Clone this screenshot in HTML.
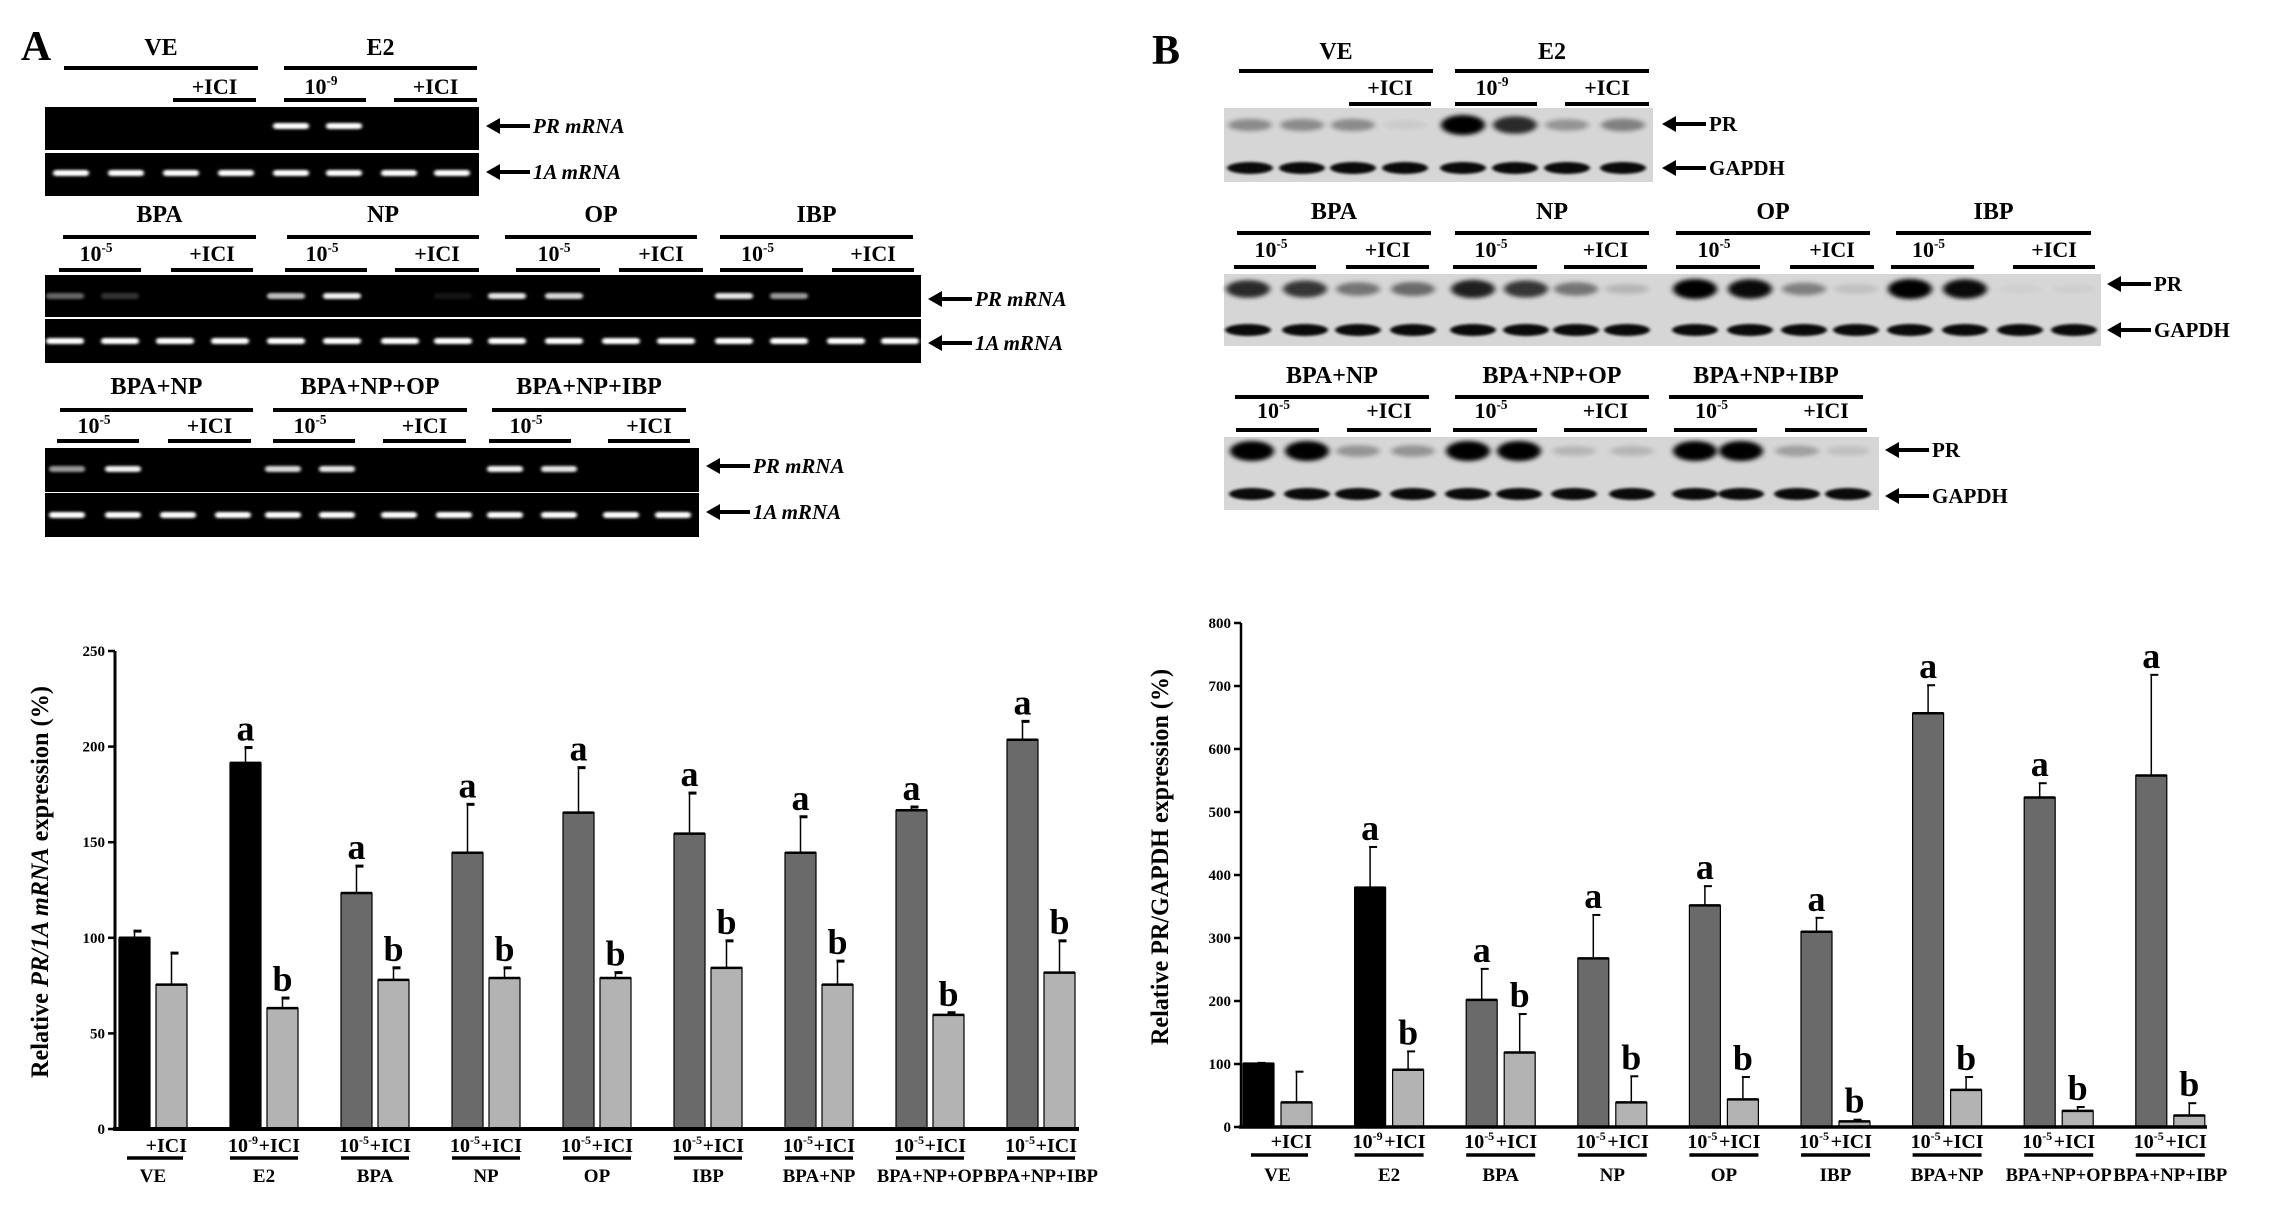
<!DOCTYPE html>
<html><head><meta charset="utf-8">
<style>
html,body{margin:0;padding:0;background:#fff;}
svg{display:block;font-family:"Liberation Serif","DejaVu Serif",serif;font-weight:bold;}
</style></head>
<body>
<svg id="fig" width="2269" height="1212" viewBox="0 0 2269 1212" xmlns="http://www.w3.org/2000/svg">
<defs>
<filter id="glow" x="-30%" y="-200%" width="160%" height="500%"><feGaussianBlur stdDeviation="1.6 1.4"/></filter>
<filter id="blot" x="-30%" y="-200%" width="160%" height="500%"><feGaussianBlur stdDeviation="3 2.2"/></filter>
</defs>
<g id="gels"></g>
<g id="chartA"></g>
<g id="chartB"></g>
</svg>
<script>
// ---------- chart data ----------
const categories = ['VE','E2','BPA','NP','OP','IBP','BPA+NP','BPA+NP+OP','BPA+NP+IBP'];
const doseLabels = ['', '-9', '-5', '-5', '-5', '-5', '-5', '-5', '-5'];
const aTreat = [100, 191.5, 123.4, 144.5, 165.5, 154.5, 144.5, 166.7, 203.6];
const aTreatTop = [103.5, 199.5, 137.5, 169.8, 189, 175.7, 163.3, 168.4, 213.2];
const aIci = [75.5, 63.2, 78, 79, 79, 84.3, 75.5, 59.7, 81.8];
const aIciTop = [92, 68.5, 84.3, 84.3, 81.8, 98.4, 87.8, 60.8, 98.4];
const aTreatSig = ['', 'a','a','a','a','a','a','a','a'];
const aIciSig = ['', 'b','b','b','b','b','b','b','b'];
const aTicks = [0, 50, 100, 150, 200, 250];
const bTreat = [100.6, 380, 201.8, 267.7, 351.8, 310, 656.7, 523, 558];
const bTreatTop = [101.8, 444.5, 251, 336.6, 382.3, 332, 701.2, 545.7, 717.7];
const bIci = [39, 90.9, 118.3, 39, 43.9, 9, 59, 25.6, 18.3];
const bIciTop = [87.8, 120, 179.3, 80.5, 79.3, 11.6, 79.3, 31.7, 37.8];
const bTreatSig = ['', 'a','a','a','a','a','a','a','a'];
const bIciSig = ['', 'b','b','b','b','b','b','b','b'];
const bTicks = [0, 100, 200, 300, 400, 500, 600, 700, 800];

const NS = 'http://www.w3.org/2000/svg';
function mk(parent, tag, attrs, text){
  const e = document.createElementNS(NS, tag);
  for (const k in attrs) e.setAttribute(k, attrs[k]);
  if (text !== undefined) e.textContent = text;
  parent.appendChild(e);
  return e;
}
function tenPow(parent, x, y, exp, size, anchor){
  const t = mk(parent, 'text', {x:x, y:y, 'font-size':size, 'text-anchor':anchor||'middle'});
  t.appendChild(document.createTextNode('10'));
  mk(t, 'tspan', {'font-size':size*0.6, dy:-size*0.4}, exp);
  return t;
}

// ---------- bar charts ----------
function drawChart(g, cfg){
  const y = v => cfg.y0 - (v - 0) * (cfg.y0 - cfg.yTop) / cfg.yMax;
  const x = i => cfg.x0 + i * cfg.step;
  const ax = mk(g, 'line', {x1:cfg.axX, y1:cfg.yTop, x2:cfg.axX, y2:cfg.y0, stroke:'#000','stroke-width':cfg.axW});
   
  cfg.ticks.forEach(t => {
    const tk = mk(g, 'line', {x1:cfg.axX-7, y1:y(t), x2:cfg.axX, y2:y(t), stroke:'#000','stroke-width':2.5});
     
    const tl = mk(g, 'text', {x:cfg.axX-10, y:y(t)+5, 'font-size':15, 'text-anchor':'end'}, String(t));
     
  });
  cfg.cats.forEach((c, i) => {
    const bx = x(i);
    const col = i < 2 ? '#000' : '#6a6a6a';
    const b1 = mk(g, 'rect', {x:bx, y:y(cfg.treat[i]), width:cfg.bw, height:y(0)-y(cfg.treat[i]), fill:col, stroke:'#000','stroke-width':1.2});
    
    
    mk(g, 'line', {x1:bx, y1:y(cfg.treat[i]), x2:bx+cfg.bw, y2:y(cfg.treat[i]), stroke:'#000','stroke-width':2.5});
    const gx = bx + cfg.off;
    const b2 = mk(g, 'rect', {x:gx, y:y(cfg.ici[i]), width:cfg.bw, height:y(0)-y(cfg.ici[i]), fill:'#b3b3b3', stroke:'#000','stroke-width':1.2});
    
    
    mk(g, 'line', {x1:gx, y1:y(cfg.ici[i]), x2:gx+cfg.bw, y2:y(cfg.ici[i]), stroke:'#000','stroke-width':2.5});
    [[bx, cfg.treat[i], cfg.treatTop[i], cfg.tSig[i]], [gx, cfg.ici[i], cfg.iciTop[i], cfg.iSig[i]]].forEach(([px, v, top, sig]) => {
      const cx = px + cfg.bw/2;
      const el = mk(g, 'line', {x1:cx, y1:y(v), x2:cx, y2:y(top), stroke:'#000','stroke-width':1.5});
       
      const cap = mk(g, 'line', {x1:cx-1, y1:y(top), x2:cx+7, y2:y(top), stroke:'#000','stroke-width':cfg.capW});
       
      if (sig) {
        const st = mk(g, 'text', {x:cx, y:y(top)-7, 'font-size':36, 'text-anchor':'middle'}, sig);
         
      }
    });
    const gc = bx + (cfg.off + cfg.bw)/2;
    if (i === 0) {
      const t = mk(g, 'text', {x:gx+cfg.bw, y:cfg.labY, 'font-size':20, 'text-anchor':'end'}, '+ICI');
       
      mk(g, 'line', {x1:bx+8, y1:cfg.ulY, x2:gx+cfg.bw-4, y2:cfg.ulY, stroke:'#000','stroke-width':3.5});
    } else {
      const t = tenPow(g, bx-2, cfg.labY, cfg.dose[i], 20, 'start');
       
      const t2 = mk(g, 'text', {x:gx+cfg.bw+2, y:cfg.labY, 'font-size':20, 'text-anchor':'end'}, '+ICI');
       
      mk(g, 'line', {x1:bx, y1:cfg.ulY, x2:gx+cfg.bw, y2:cfg.ulY, stroke:'#000','stroke-width':3.5});
    }
    const cl = mk(g, 'text', {x:gc, y:cfg.catY, 'font-size':19, 'text-anchor':'middle'}, c);
    if (c.length > 6) { cl.setAttribute('textLength', c.length > 9 ? 114 : 106); cl.setAttribute('lengthAdjust', 'spacingAndGlyphs'); }
     
  });
  const xa = mk(g, 'line', {x1:cfg.axX-2, y1:cfg.y0, x2:cfg.xEnd, y2:cfg.y0, stroke:'#000','stroke-width':cfg.axW+1});
   
  const tt = mk(g, 'text', {x:0, y:0, 'font-size':25, 'text-anchor':'middle', transform:`translate(${cfg.titX},${cfg.titY}) rotate(-90)`, textLength:cfg.titLen, lengthAdjust:'spacingAndGlyphs'});
  cfg.title.forEach(([s, it]) => { mk(tt, 'tspan', it ? {'font-style':'italic'} : {}, s); });
   
}

drawChart(document.getElementById('chartA'), {
  cats:categories, dose:doseLabels, treat:aTreat, treatTop:aTreatTop, ici:aIci, iciTop:aIciTop, tSig:aTreatSig, iSig:aIciSig,
  ticks:aTicks, yMax:250, y0:1129, yTop:651, axX:115, xEnd:1079, x0:119, step:111, bw:31, off:37, axW:3, capW:3,
  labY:1152, ulY:1158, catY:1182, titX:48, titY:882, titLen:392,
  title:[['Relative ',false],['PR/1A mRNA',true],['  expression (%)',false]]
});
drawChart(document.getElementById('chartB'), {
  cats:categories, dose:doseLabels, treat:bTreat, treatTop:bTreatTop, ici:bIci, iciTop:bIciTop, tSig:bTreatSig, iSig:bIciSig,
  ticks:bTicks, yMax:800, y0:1127, yTop:623, axX:1241, xEnd:2207, x0:1243, step:111.6, bw:31, off:38, axW:2.5, capW:2,
  labY:1148, ulY:1155, catY:1181, titX:1168, titY:857, titLen:376,
  title:[['Relative PR/GAPDH  expression (%)',false]]
});

// ---------- gel / blot panels ----------
const G = document.getElementById('gels');
function label(x, y, txt, size, name){
  const t = mk(G, 'text', {x:x, y:y, 'font-size':size, 'text-anchor':'middle'}, txt);
   
  return t;
}
function bar(x1, x2, y){ mk(G, 'line', {x1:x1, y1:y, x2:x2, y2:y, stroke:'#000','stroke-width':4}); }
function arrow(x, y, txt, italic){
  mk(G, 'line', {x1:x+12, y1:y, x2:x+44, y2:y, stroke:'#000','stroke-width':4});
  mk(G, 'polygon', {points:`${x},${y} ${x+14},${y-8} ${x+14},${y+8}`, fill:'#000'});
  const t = mk(G, 'text', {x:x+47, y:y+7, 'font-size':21, 'font-style':italic?'italic':'normal'}, txt);
   
}
function header(groups, yH, yL, subs, yS, yL2){
  groups.forEach(([c, x1, x2, n]) => { label((x1+x2)/2, yH+9, n, 24, 'group-header'); bar(x1, x2, yL); });
  subs.forEach(([x1, x2, kind]) => {
    const cx = (x1+x2)/2;
    if (kind === '+ICI') label(cx, yS+8, '+ICI', 22, 'ici-label');
    else { const t = tenPow(G, cx-4, yS+8, kind, 22);  }
    bar(x1, x2, yL2);
  });
}
function gel(x1, x2, y1, y2, lanes, ints, bandY, w, name){
  const r = mk(G, 'rect', {x:x1, y:y1, width:x2-x1, height:y2-y1, fill:'#000'});
   
  lanes.forEach((lx, i) => {
    if (ints[i] <= 0.02) return;
    mk(G, 'rect', {x:lx-w/2, y:bandY-3, width:w, height:6, rx:3, fill:'#fff', opacity:ints[i], filter:'url(#glow)'});
  });
}
function blot(x1, x2, y1, y2, lanes, prI, prY, gY, name){
  const r = mk(G, 'rect', {x:x1, y:y1, width:x2-x1, height:y2-y1, fill:'#d6d6d6'});
   
  lanes.forEach((lx, i) => {
    if (prI[i] > 0.02) mk(G, 'ellipse', {cx:lx, cy:prY, rx:22, ry:4+6*prI[i], fill:'#000', opacity:prI[i], filter:'url(#blot)'});
    mk(G, 'ellipse', {cx:lx, cy:gY, rx:23, ry:6, fill:'#000', opacity:0.95, filter:'url(#glow)'});
  });
}

label(36, 60, 'A', 42, 'panel-label-a');
label(1166, 64, 'B', 42, 'panel-label-b');

header([['',64,258,'VE'],['',284,477,'E2']], 46, 68,
  [[173,256,'+ICI'],[284,366,'-9'],[394,477,'+ICI']], 86, 100);
const l8 = [71,126,181,236,291,344,399,452];
gel(45, 479, 107, 150, l8, [0,0,0,0,1,1,0,0], 126, 36, 'gel-pr-row1');
gel(45, 479, 153, 196, l8, [1,1,1,1,1,1,1,1], 173, 36, 'gel-1a-row1');
arrow(486, 126, 'PR mRNA', true); arrow(486, 172, '1A mRNA', true);

header([['',63,256,'BPA'],['',287,479,'NP'],['',505,697,'OP'],['',720,913,'IBP']], 213, 237,
  [[59,141,'-5'],[171,253,'+ICI'],[285,367,'-5'],[395,479,'+ICI'],[516,600,'-5'],[619,703,'+ICI'],[720,803,'-5'],[832,914,'+ICI']], 253, 270);
const l16 = [65,120,175,230,286,342,400,453,507,564,621,676,734,789,846,900];
gel(45, 921, 275, 317, l16, [0.4,0.2,0,0,0.75,0.95,0,0.08,0.9,0.85,0,0,0.9,0.6,0,0], 296, 38, 'gel-pr-row2');
gel(45, 921, 319, 363, l16, [1,1,1,1,1,1,1,1,1,1,1,1,1,1,1,1], 341, 38, 'gel-1a-row2');
arrow(928, 299, 'PR mRNA', true); arrow(928, 343, '1A mRNA', true);

header([['',60,253,'BPA+NP'],['',273,467,'BPA+NP+OP'],['',492,686,'BPA+NP+IBP']], 385, 410,
  [[57,139,'-5'],[168,251,'+ICI'],[273,355,'-5'],[383,466,'+ICI'],[489,571,'-5'],[608,690,'+ICI']], 425, 441);
const l12 = [67,123,178,233,283,337,399,454,505,559,621,673];
gel(45, 699, 448, 492, l12, [0.6,0.95,0,0,0.85,0.9,0,0,0.95,0.9,0,0], 469, 36, 'gel-pr-row3');
gel(45, 699, 493, 537, l12, [1,1,1,1,1,1,1,1,1,1,1,1], 515, 36, 'gel-1a-row3');
arrow(706, 466, 'PR mRNA', true); arrow(706, 512, '1A mRNA', true);

header([['',1239,1433,'VE'],['',1455,1649,'E2']], 50, 71,
  [[1349,1431,'+ICI'],[1455,1537,'-9'],[1565,1649,'+ICI']], 87, 104);
blot(1224, 1653, 108, 182, [1250,1302,1353,1405,1463,1515,1567,1623], [0.35,0.35,0.35,0.05,1,0.8,0.3,0.4], 125, 168, 'blot-row1');
arrow(1662, 124, 'PR', false); arrow(1662, 168, 'GAPDH', false);

header([['',1237,1431,'BPA'],['',1455,1649,'NP'],['',1676,1870,'OP'],['',1896,2091,'IBP']], 210, 233,
  [[1234,1316,'-5'],[1346,1429,'+ICI'],[1453,1537,'-5'],[1564,1647,'+ICI'],[1676,1760,'-5'],[1790,1874,'+ICI'],[1891,1974,'-5'],[2013,2095,'+ICI']], 249, 267);
blot(1224, 2101, 274, 346, [1248,1305,1358,1413,1473,1526,1576,1627,1695,1750,1804,1856,1910,1965,2020,2074],
  [0.8,0.75,0.45,0.5,0.85,0.75,0.45,0.15,1,0.95,0.4,0.1,1,0.95,0.03,0.03], 289, 330, 'blot-row2');
arrow(2107, 284, 'PR', false); arrow(2107, 330, 'GAPDH', false);

header([['',1235,1429,'BPA+NP'],['',1455,1649,'BPA+NP+OP'],['',1669,1863,'BPA+NP+IBP']], 374, 397,
  [[1236,1319,'-5'],[1347,1431,'+ICI'],[1453,1537,'-5'],[1564,1647,'+ICI'],[1674,1757,'-5'],[1785,1867,'+ICI']], 410, 430);
blot(1224, 1879, 437, 510, [1252,1307,1358,1413,1468,1519,1574,1632,1695,1741,1797,1848],
  [1,1,0.3,0.3,1,1,0.15,0.15,1,1,0.25,0.1], 451, 494, 'blot-row3');
arrow(1885, 450, 'PR', false); arrow(1885, 496, 'GAPDH', false);
</script>
</body></html>
